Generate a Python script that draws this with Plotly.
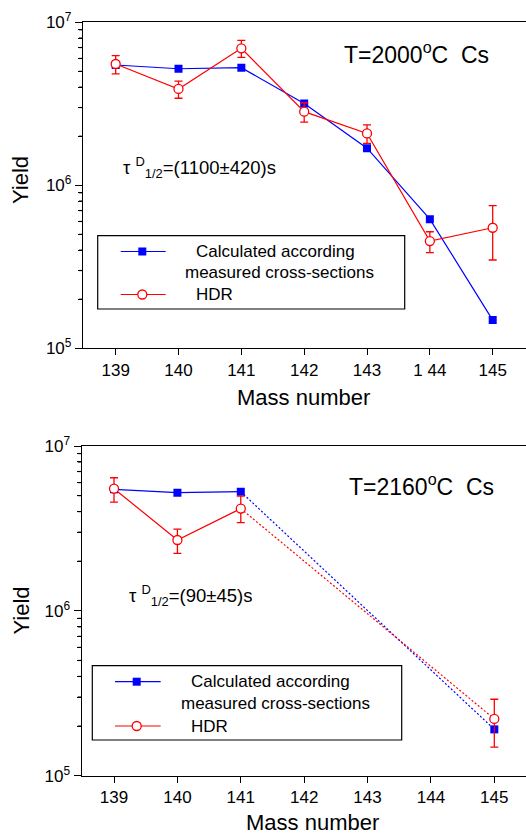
import plotly.graph_objects as go

# ---------------- data ----------------
mass_top = [139, 140, 141, 142, 143, 144, 145]
tick_text_top = ["139", "140", "141", "142", "143", "1 44", "145"]
calc_top = [5.47e6, 5.19e6, 5.27e6, 3.18e6, 1.69e6, 6.2e5, 1.49e5]
hdr_top = [5.55e6, 3.90e6, 6.92e6, 2.83e6, 2.08e6, 4.55e5, 5.49e5]
hdr_top_hi = [6.24e6, 4.36e6, 7.75e6, 3.21e6, 2.35e6, 5.19e5, 7.50e5]
hdr_top_lo = [4.82e6, 3.42e6, 6.10e6, 2.44e6, 1.81e6, 3.86e5, 3.48e5]

mass_bot = [139, 140, 141, 145]
tick_vals_bot = [139, 140, 141, 142, 143, 144, 145]
tick_text_bot = ["139", "140", "141", "142", "143", "144", "145"]
calc_bot = [5.46e6, 5.21e6, 5.28e6, 1.91e5]
hdr_bot = [5.51e6, 2.69e6, 4.17e6, 2.21e5]
hdr_bot_hi = [6.42e6, 3.13e6, 4.97e6, 2.91e5]
hdr_bot_lo = [4.56e6, 2.23e6, 3.43e6, 1.49e5]

y_major = [1e5, 1e6, 1e7]
y_major_text = ["10<sup>5</sup>", "10<sup>6</sup>", "10<sup>7</sup>"]
y_minor = [m * 10 ** e for e in (5, 6) for m in range(2, 10)]

legend_calc = ["Calculated according", "measured cross-sections"]
legend_hdr = "HDR"
label_top = "T=2000<sup>o</sup>C\u00a0\u00a0Cs"
label_bot = "T=2160<sup>o</sup>C\u00a0\u00a0Cs"
tau_top = "\u03c4 <sup>D</sup><sub>1/2</sub>=(1100\u00b1420)s"
tau_bot = "\u03c4 <sup>D</sup><sub>1/2</sub>=(90\u00b145)s"

# ---------------- style ----------------
W, H = 526, 836
FONT = "Liberation Sans, Arial, Helvetica, sans-serif"
BLUE = "#0000ff"
RED = "#ff0000"
LW = 1.2


def px(x):
    return x / W


def py(y):
    return 1 - y / H


def errs(v, hi, lo):
    return [h - a for a, h in zip(v, hi)], [a - l for a, l in zip(v, lo)]


fig = go.Figure()

# ---------- top panel ----------
fig.add_trace(go.Scatter(
    x=mass_top, y=calc_top, mode="lines+markers",
    line=dict(color=BLUE, width=LW),
    marker=dict(symbol="square", size=8, color=BLUE),
    xaxis="x", yaxis="y", showlegend=False))
ep, em = errs(hdr_top, hdr_top_hi, hdr_top_lo)
fig.add_trace(go.Scatter(
    x=mass_top, y=hdr_top, mode="lines+markers",
    line=dict(color=RED, width=LW),
    marker=dict(symbol="circle", size=9, color="white", line=dict(color=RED, width=1.3)),
    error_y=dict(type="data", symmetric=False, array=ep, arrayminus=em,
                 color=RED, thickness=1.3, width=4),
    xaxis="x", yaxis="y", showlegend=False))

# ---------- bottom panel ----------
fig.add_trace(go.Scatter(
    x=mass_bot[:3], y=calc_bot[:3], mode="lines",
    line=dict(color=BLUE, width=LW), xaxis="x2", yaxis="y2", showlegend=False))
fig.add_trace(go.Scatter(
    x=mass_bot[2:], y=calc_bot[2:], mode="lines",
    line=dict(color=BLUE, width=LW, dash="2px,2px"), xaxis="x2", yaxis="y2", showlegend=False))
fig.add_trace(go.Scatter(
    x=mass_bot[:3], y=hdr_bot[:3], mode="lines",
    line=dict(color=RED, width=LW), xaxis="x2", yaxis="y2", showlegend=False))
fig.add_trace(go.Scatter(
    x=mass_bot[2:], y=hdr_bot[2:], mode="lines",
    line=dict(color=RED, width=LW, dash="2px,2px"), xaxis="x2", yaxis="y2", showlegend=False))
fig.add_trace(go.Scatter(
    x=mass_bot, y=calc_bot, mode="markers",
    marker=dict(symbol="square", size=8, color=BLUE),
    xaxis="x2", yaxis="y2", showlegend=False))
ep2, em2 = errs(hdr_bot, hdr_bot_hi, hdr_bot_lo)
fig.add_trace(go.Scatter(
    x=mass_bot, y=hdr_bot, mode="markers",
    marker=dict(symbol="circle", size=9, color="white", line=dict(color=RED, width=1.3)),
    error_y=dict(type="data", symmetric=False, array=ep2, arrayminus=em2,
                 color=RED, thickness=1.3, width=4),
    xaxis="x2", yaxis="y2", showlegend=False))

# empty traces that bind the minor-tick overlay axes
fig.add_trace(go.Scatter(x=[], y=[], xaxis="x", yaxis="y3", showlegend=False, hoverinfo="skip"))
fig.add_trace(go.Scatter(x=[], y=[], xaxis="x2", yaxis="y4", showlegend=False, hoverinfo="skip"))

tickfont = dict(family=FONT, size=17, color="black")
xcommon = dict(showline=True, linecolor="black", linewidth=1.3, mirror=True,
               ticks="outside", ticklen=6, tickwidth=1.3, tickcolor="black",
               showgrid=False, zeroline=False, tickfont=tickfont, tickmode="array",
               automargin=False)
ycommon = dict(type="log", range=[5, 7], showline=True, linecolor="black", linewidth=1.3,
               ticks="outside", ticklen=7, tickwidth=1.3, tickcolor="black",
               showgrid=False, zeroline=False, tickmode="array",
               tickvals=y_major, ticktext=y_major_text, automargin=False,
               tickfont=dict(family=FONT, size=17, color="black"))
yminor = dict(type="log", range=[5, 7], showline=False, side="left",
              ticks="outside", ticklen=4, tickwidth=1.3, tickcolor="#000000",
              showgrid=False, zeroline=False, tickmode="array",
              tickvals=y_minor, ticktext=["" for _ in y_minor],
              showticklabels=False, automargin=False)

TOP_L, BOT_L = 83, 81.7
fig.update_layout(
    width=W, height=H, margin=dict(l=0, r=0, t=0, b=0, autoexpand=False),
    paper_bgcolor="white", plot_bgcolor="white",
    font=dict(family=FONT, color="black"),
    xaxis=dict(xcommon, domain=[px(TOP_L), 1], range=[138.48, 145.53],
               tickvals=mass_top, ticktext=tick_text_top, anchor="y"),
    yaxis=dict(ycommon, domain=[py(348.3), py(22.3)], anchor="x"),
    yaxis3=dict(yminor, overlaying="y", anchor="x"),
    xaxis2=dict(xcommon, domain=[px(BOT_L), 1], range=[138.49, 145.5],
                tickvals=tick_vals_bot, ticktext=tick_text_bot, anchor="y2"),
    yaxis2=dict(ycommon, domain=[py(775.7), py(446)], anchor="x2"),
    yaxis4=dict(yminor, overlaying="y2", anchor="x2"),
)

ann = []


def text(x, y, s, size, xanchor="center", angle=0, yanchor="middle"):
    ann.append(dict(x=px(x), y=py(y), xref="paper", yref="paper", text=s,
                    showarrow=False, xanchor=xanchor, yanchor=yanchor,
                    textangle=angle, font=dict(family=FONT, size=size, color="black")))


# axis titles
text(304, 397.5, "Mass number", 22)
text(312.5, 822.5, "Mass number", 22)
text(20.5, 180.5, "Yield", 22, angle=-90)
text(20.5, 611, "Yield", 22, angle=-90)
# panel labels
text(342, 53, label_top, 23, xanchor="left")
text(347, 485, label_bot, 23, xanchor="left")
text(121, 167, tau_top, 18.5, xanchor="left")
text(127, 595, tau_bot, 18.5, xanchor="left")

shapes = []

# backup rendering of the short log ticks, placed from each axis' own domain/range
for dom, (ytop, ybot), wx in (((TOP_L), (22.3, 348.3), None), ((BOT_L), (446, 775.7), None)):
    for v in y_minor:
        import math
        frac = (math.log10(v) - 5) / 2
        yy = ybot - frac * (ybot - ytop)
        shapes.append(dict(type="line", xref="paper", yref="paper",
                           x0=px(dom), x1=px(dom - 4), y0=py(yy), y1=py(yy),
                           line=dict(color="black", width=1.2), layer="above"))


def legend(box, yl1, yl2, yl3, lx0, lx1, mx, tx1, tx2):
    x0, y0, x1, y1 = box
    shapes.append(dict(type="rect", xref="paper", yref="paper",
                       x0=px(x0), x1=px(x1), y0=py(y1), y1=py(y0),
                       line=dict(color="black", width=1.2), fillcolor="white", layer="above"))
    for yy, col in ((yl1, BLUE), (yl3, RED)):
        shapes.append(dict(type="line", xref="paper", yref="paper",
                           x0=px(lx0), x1=px(lx1), y0=py(yy), y1=py(yy),
                           line=dict(color=col, width=LW), layer="above"))
    shapes.append(dict(type="rect", xref="paper", yref="paper",
                       x0=px(mx - 4), x1=px(mx + 4), y0=py(yl1 + 4), y1=py(yl1 - 4),
                       line=dict(color=BLUE, width=0), fillcolor=BLUE, layer="above"))
    shapes.append(dict(type="circle", xref="paper", yref="paper",
                       x0=px(mx - 4.5), x1=px(mx + 4.5), y0=py(yl3 + 4.5), y1=py(yl3 - 4.5),
                       line=dict(color=RED, width=1.3), fillcolor="white", layer="above"))
    text(tx1, yl1, legend_calc[0], 17, xanchor="left")
    text(tx2, yl2, legend_calc[1], 17, xanchor="left")
    text(tx1, yl3, legend_hdr, 17, xanchor="left")


legend((97.7, 235.7, 404.7, 309), 251.5, 272.7, 294.5, 120.7, 165.7, 142.3, 193.5, 182.5)
legend((92.3, 665.7, 401.7, 740), 681.7, 703.3, 726, 115, 160.7, 136.7, 188.5, 178.5)

fig.update_layout(annotations=ann, shapes=shapes)
fig.write_html("out.html")
